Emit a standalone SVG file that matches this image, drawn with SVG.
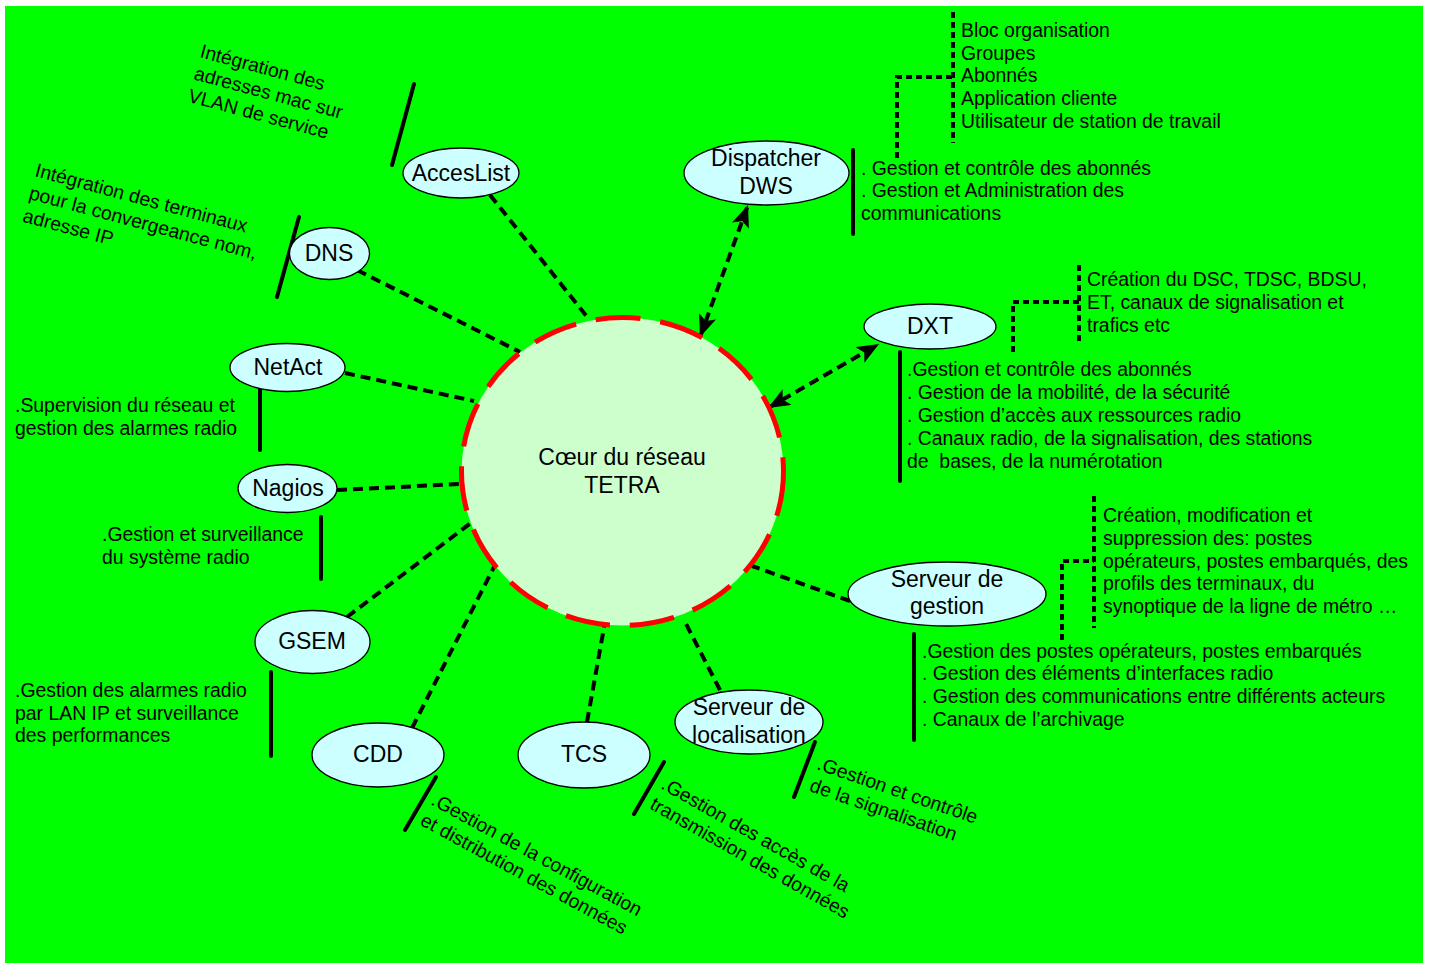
<svg xmlns="http://www.w3.org/2000/svg" width="1429" height="963" viewBox="0 0 1429 963">
<defs>
<style>
text{font-family:"Liberation Sans",Arial,sans-serif;fill:#000;}
.t{font-size:19.4px;}
.lbl{font-size:23px;text-anchor:middle;}
.node{fill:#CCFFFF;stroke:#000;stroke-width:1.3;}
.conn{fill:none;stroke:#000;stroke-width:4;stroke-dasharray:10 6;}
.brk{fill:none;stroke:#000;stroke-width:4;stroke-dasharray:6 4;}
.solid{fill:none;stroke:#000;stroke-width:4;stroke-linecap:round;}
</style>
<marker id="ah" viewBox="0 0 22 18" refX="22" refY="9" markerWidth="22" markerHeight="18" markerUnits="userSpaceOnUse" orient="auto-start-reverse">
<path d="M0,0 L22,9 L0,18 L5,9 Z" fill="#000"/>
</marker>
</defs>
<rect x="0" y="0" width="1429" height="963" fill="#FFFFFF"/>
<rect x="5" y="6" width="1418" height="957" fill="#00FF00"/>

<g id="connectors">
<line class="conn" x1="490" y1="195" x2="588" y2="318"/>
<line class="conn" x1="357" y1="270" x2="520" y2="352"/>
<line class="conn" x1="345" y1="373" x2="474" y2="401"/>
<line class="conn" x1="337" y1="490" x2="460" y2="484"/>
<line class="conn" x1="347" y1="617" x2="472" y2="522"/>
<line class="conn" x1="412" y1="728" x2="494" y2="567"/>
<line class="conn" x1="587" y1="722" x2="605" y2="622"/>
<line class="conn" x1="720" y1="690" x2="684" y2="620"/>
<line class="conn" x1="850" y1="601" x2="752" y2="566"/>
<line class="conn" x1="700" y1="337" x2="748" y2="205" marker-start="url(#ah)" marker-end="url(#ah)"/>
<line class="conn" x1="768" y1="408" x2="879" y2="344" marker-start="url(#ah)" marker-end="url(#ah)"/>
<!-- solid annotation bars -->
<line class="solid" x1="414" y1="84" x2="392" y2="165"/>
<line class="solid" x1="299" y1="217" x2="277" y2="297"/>
<line class="solid" x1="260" y1="388" x2="260" y2="450"/>
<line class="solid" x1="321" y1="517" x2="321" y2="579"/>
<line class="solid" x1="271" y1="672" x2="271" y2="756"/>
<line class="solid" x1="436" y1="777" x2="405" y2="830"/>
<line class="solid" x1="664" y1="762" x2="634" y2="814"/>
<line class="solid" x1="815" y1="742" x2="794" y2="797"/>
<line class="solid" x1="853" y1="150" x2="853" y2="234"/>
<line class="solid" x1="900" y1="352" x2="900" y2="481"/>
<line class="solid" x1="914" y1="634" x2="914" y2="740"/>
<!-- dotted brackets -->
<polyline class="brk" points="897,158 897,77 953,77"/>
<line class="brk" x1="953" y1="12" x2="953" y2="143"/>
<polyline class="brk" points="1013,352 1013,302 1079,302"/>
<line class="brk" x1="1079" y1="265" x2="1079" y2="345"/>
<polyline class="brk" points="1062,640 1062,561 1094,561"/>
<line class="brk" x1="1094" y1="496" x2="1094" y2="628"/>
</g>

<g id="core">
<ellipse cx="622.5" cy="471.5" rx="161" ry="154" fill="#CCFFCC" stroke="#FF0000" stroke-width="5" stroke-dasharray="45 20"/>
<text x="622" y="465" style="font-size:23px;text-anchor:middle">Cœur du réseau</text>
<text x="622" y="493" style="font-size:23px;text-anchor:middle">TETRA</text>
</g>

<g id="node-acceslist">
<ellipse class="node" cx="461" cy="173" rx="58" ry="25"/>
<text class="lbl" x="461" y="181">AccesList</text>
<text class="t" transform="translate(199,57) rotate(15)"><tspan x="0" y="0">Intégration des</tspan><tspan x="0" y="23">adresses mac sur</tspan><tspan x="0" y="46">VLAN de service</tspan></text>
</g>

<g id="node-dns">
<ellipse class="node" cx="329.5" cy="253.5" rx="40" ry="26"/>
<text class="lbl" x="329" y="261">DNS</text>
<text class="t" transform="translate(34,176) rotate(15)"><tspan x="0" y="0">Intégration des terminaux</tspan><tspan x="0" y="23.5">pour la convergeance nom,</tspan><tspan x="0" y="47">adresse IP</tspan></text>
</g>

<g id="node-netact">
<ellipse class="node" cx="287.5" cy="367.5" rx="57.5" ry="24"/>
<text class="lbl" x="288" y="375">NetAct</text>
<text class="t" x="15" y="412">.Supervision du réseau et</text>
<text class="t" x="15" y="435">gestion des alarmes radio</text>
</g>

<g id="node-nagios">
<ellipse class="node" cx="287.5" cy="488.5" rx="49.5" ry="24"/>
<text class="lbl" x="288" y="496">Nagios</text>
<text class="t" x="102" y="541">.Gestion et surveillance</text>
<text class="t" x="102" y="564">du système radio</text>
</g>

<g id="node-gsem">
<ellipse class="node" cx="312.5" cy="642" rx="57.5" ry="31.5"/>
<text class="lbl" x="312" y="649">GSEM</text>
<text class="t" x="15" y="697">.Gestion des alarmes radio</text>
<text class="t" x="15" y="720">par LAN IP et surveillance</text>
<text class="t" x="15" y="742">des performances</text>
</g>

<g id="node-cdd">
<ellipse class="node" cx="378" cy="755" rx="66" ry="32"/>
<text class="lbl" x="378" y="762">CDD</text>
<text class="t" transform="translate(430,804) rotate(28.5)"><tspan x="0" y="0">.Gestion de la configuration</tspan><tspan x="0" y="23">et distribution des données</tspan></text>
</g>

<g id="node-tcs">
<ellipse class="node" cx="584" cy="755" rx="66" ry="33"/>
<text class="lbl" x="584" y="762">TCS</text>
<text class="t" transform="translate(660,788) rotate(29.5)"><tspan x="0" y="0">.Gestion des accès de la</tspan><tspan x="0" y="23">transmission des données</tspan></text>
</g>

<g id="node-localisation">
<ellipse class="node" cx="749" cy="722" rx="74" ry="32"/>
<text class="lbl" x="749" y="715">Serveur de</text>
<text class="lbl" x="749" y="743">localisation</text>
<text class="t" transform="translate(816,769) rotate(19)"><tspan x="0" y="0">.Gestion et contrôle</tspan><tspan x="0" y="23">de la signalisation</tspan></text>
</g>

<g id="node-gestion">
<ellipse class="node" cx="947" cy="594" rx="99" ry="32"/>
<text class="lbl" x="947" y="587">Serveur de</text>
<text class="lbl" x="947" y="614">gestion</text>
<text class="t" x="1103" y="522">Création, modification et</text>
<text class="t" x="1103" y="545">suppression des: postes</text>
<text class="t" x="1103" y="568">opérateurs, postes embarqués, des</text>
<text class="t" x="1103" y="590">profils des terminaux, du</text>
<text class="t" x="1103" y="613">synoptique de la ligne de métro …</text>
<text class="t" x="922" y="658">.Gestion des postes opérateurs, postes embarqués</text>
<text class="t" x="922" y="680">. Gestion des éléments d’interfaces radio</text>
<text class="t" x="922" y="703">. Gestion des communications entre différents acteurs</text>
<text class="t" x="922" y="726">. Canaux de l’archivage</text>
</g>

<g id="node-dxt">
<ellipse class="node" cx="930" cy="326.5" rx="66" ry="22.5"/>
<text class="lbl" x="930" y="334">DXT</text>
<text class="t" x="1087" y="286">Création du DSC, TDSC, BDSU,</text>
<text class="t" x="1087" y="309">ET, canaux de signalisation et</text>
<text class="t" x="1087" y="332">trafics etc</text>
<text class="t" x="907" y="376">.Gestion et contrôle des abonnés</text>
<text class="t" x="907" y="399">. Gestion de la mobilité, de la sécurité</text>
<text class="t" x="907" y="422">. Gestion d’accès aux ressources radio</text>
<text class="t" x="907" y="445">. Canaux radio, de la signalisation, des stations</text>
<text class="t" x="907" y="468" xml:space="preserve">de  bases, de la numérotation</text>
</g>

<g id="node-dispatcher">
<ellipse class="node" cx="766.5" cy="173" rx="82.5" ry="32"/>
<text class="lbl" x="766" y="166">Dispatcher</text>
<text class="lbl" x="766" y="194">DWS</text>
<text class="t" x="961" y="37">Bloc organisation</text>
<text class="t" x="961" y="60">Groupes</text>
<text class="t" x="961" y="82">Abonnés</text>
<text class="t" x="961" y="105">Application cliente</text>
<text class="t" x="961" y="128">Utilisateur de station de travail</text>
<text class="t" x="861" y="175">. Gestion et contrôle des abonnés</text>
<text class="t" x="861" y="197">. Gestion et Administration des</text>
<text class="t" x="861" y="220">communications</text>
</g>
</svg>
